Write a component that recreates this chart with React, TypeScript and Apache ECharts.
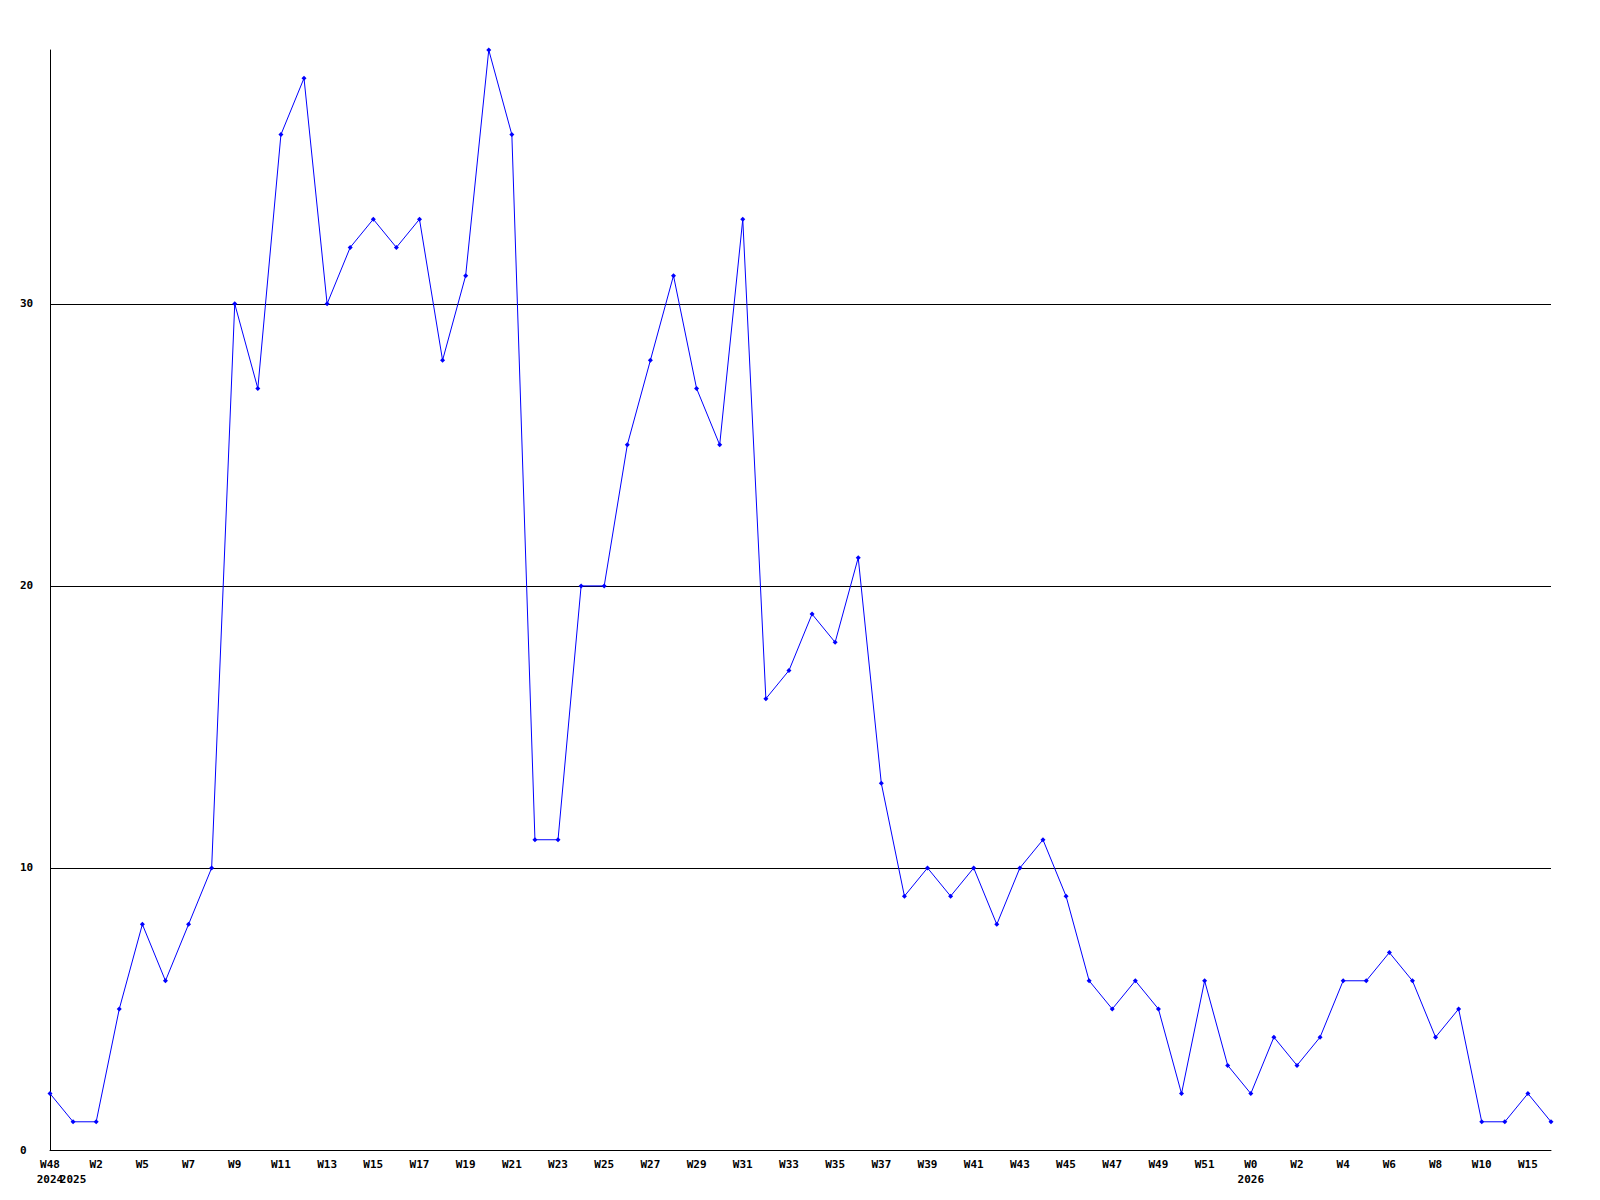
import React, { useEffect, useRef } from "react";
import * as echarts from "echarts";

const weeks: string[] = [
  "W48", "W1", "W2", "W3", "W5", "W6", "W7", "W8", "W9", "W10",
  "W11", "W12", "W13", "W14", "W15", "W16", "W17", "W18", "W19", "W20",
  "W21", "W22", "W23", "W24", "W25", "W26", "W27", "W28", "W29", "W30",
  "W31", "W32", "W33", "W34", "W35", "W36", "W37", "W38", "W39", "W40",
  "W41", "W42", "W43", "W44", "W45", "W46", "W47", "W48", "W49", "W50",
  "W51", "W52", "W0", "W1", "W2", "W3", "W4", "W5", "W6", "W7",
  "W8", "W9", "W10", "W11", "W15", "W16",
];

const yearMarks: Record<number, string> = { 0: "2024", 1: "2025", 52: "2026" };

const values: number[] = [
  2, 1, 1, 5, 8, 6, 8, 10, 30, 27,
  36, 38, 30, 32, 33, 32, 33, 28, 31, 39,
  36, 11, 11, 20, 20, 25, 28, 31, 27, 25,
  33, 16, 17, 19, 18, 21, 13, 9, 10, 9,
  10, 8, 10, 11, 9, 6, 5, 6, 5, 2,
  6, 3, 2, 4, 3, 4, 6, 6, 7, 6,
  4, 5, 1, 1, 2, 1,
];

const yTicks = { min: 0, max: 39, interval: 10 };

export default function App() {
  const ref = useRef<HTMLDivElement>(null);
  useEffect(() => {
    if (!ref.current) return;
    const chart = echarts.init(ref.current, null, { renderer: "svg" });
    const font = "'DejaVu Sans Mono', monospace";
    chart.setOption({
      animation: false,
      backgroundColor: "#ffffff",
      grid: { left: 50, right: 49, top: 50, bottom: 50, containLabel: false },
      xAxis: {
        type: "category",
        data: weeks,
        boundaryGap: false,
        axisLine: { show: true, lineStyle: { color: "#000", width: 1 } },
        axisTick: { show: false },
        splitLine: { show: false },
        axisLabel: {
          interval: 0,
          margin: 7,
          color: "#000",
          fontFamily: font,
          fontWeight: "bold",
          fontSize: 11,
          lineHeight: 15,
          verticalAlign: "top",
          formatter: (v: string, i: number) => {
            const top = i % 2 === 0 ? v : "";
            const yr = yearMarks[i];
            return yr ? top + "\n" + yr : top;
          },
        },
      },
      yAxis: {
        type: "value",
        min: yTicks.min,
        max: yTicks.max,
        interval: yTicks.interval,
        axisLine: { show: true, lineStyle: { color: "#000", width: 1 } },
        axisTick: { show: false },
        splitLine: {
          show: true,
          showMaxLine: false,
          showMinLine: false,
          lineStyle: { color: "#000", width: 1 },
        },
        axisLabel: {
          margin: 30,
          align: "left",
          color: "#000",
          fontFamily: font,
          fontWeight: "bold",
          fontSize: 11,
          showMaxLabel: false,
          formatter: (v: number) => (v === 39 ? "" : String(v)),
        },
      },
      series: [
        {
          type: "line",
          data: values,
          symbol: "diamond",
          symbolSize: 5,
          showAllSymbol: true,
          lineStyle: { color: "#0000ff", width: 1 },
          itemStyle: { color: "#0000ff" },
          clip: false,
        },
      ],
    });
    return () => chart.dispose();
  }, []);
  return (
    <div
      ref={ref}
      style={{ position: "fixed", left: 0, top: 0, width: 1600, height: 1200 }}
    />
  );
}
